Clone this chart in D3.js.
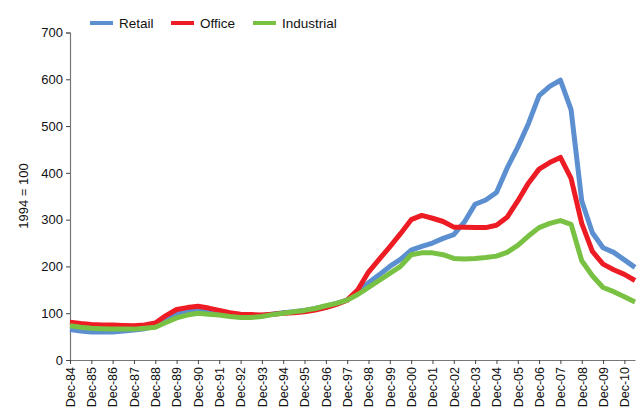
<!DOCTYPE html>
<html>
<head>
<meta charset="utf-8">
<script src="https://cdn.jsdelivr.net/npm/d3@7"></script>
<style>
  body { margin: 0; background: #fff; }
  text { font-family: "Liberation Sans", Arial, sans-serif; fill: #111; }
</style>
</head>
<body>
<svg width="640" height="410"></svg>
<script>
// half-yearly periods
const periods = [
  "1984-12", "1985-06", "1985-12", "1986-06", "1986-12", "1987-06", "1987-12", "1988-06", "1988-12",
  "1989-06", "1989-12", "1990-06", "1990-12", "1991-06", "1991-12", "1992-06", "1992-12", "1993-06",
  "1993-12", "1994-06", "1994-12", "1995-06", "1995-12", "1996-06", "1996-12", "1997-06", "1997-12",
  "1998-06", "1998-12", "1999-06", "1999-12", "2000-06", "2000-12", "2001-06", "2001-12", "2002-06",
  "2002-12", "2003-06", "2003-12", "2004-06", "2004-12", "2005-06", "2005-12", "2006-06", "2006-12",
  "2007-06", "2007-12", "2008-06", "2008-12", "2009-06", "2009-12", "2010-06", "2010-12", "2011-06"
];

const retail = [
  65, 62, 60, 60, 60, 62, 64, 67, 72,
  86, 99, 103, 105, 103, 100, 96, 93, 93,
  95, 98, 101, 103, 106, 110, 115, 121, 128,
  145, 165, 182, 200, 215, 235, 243, 250, 260,
  268, 295, 333, 342, 358, 410, 455, 505, 565,
  585, 598, 535, 340, 272, 240, 230, 214, 198
];

const office = [
  81, 78, 76, 75, 75, 74, 73, 75, 79,
  95, 108, 112, 115, 111, 106, 101, 98, 97,
  96, 98, 100, 101, 103, 107, 112, 119, 128,
  150, 188, 215, 242, 270, 300, 309, 303, 296,
  284, 284, 283, 283, 288, 305, 340, 378, 408,
  422, 433, 388, 292, 232, 205, 193, 183, 170
];

const industrial = [
  73, 70, 68, 67, 66, 66, 66, 68, 70,
  80, 90, 96, 100, 98, 96, 93, 91, 91,
  93, 97, 100, 103, 106, 110, 116, 121, 128,
  140, 155, 170, 185, 200, 225, 229, 229, 225,
  217, 216, 217, 219, 222, 230, 245, 265, 283,
  292, 298, 290, 212, 180, 155, 146, 135, 124
];

const yTicks = [0, 100, 200, 300, 400, 500, 600, 700];
const xTickYears = [1984, 1985, 1986, 1987, 1988, 1989, 1990, 1991, 1992, 1993, 1994, 1995, 1996,
  1997, 1998, 1999, 2000, 2001, 2002, 2003, 2004, 2005, 2006, 2007, 2008, 2009, 2010];

const seriesNames = ["Retail", "Office", "Industrial"];
const seriesColors = ["#5b8fd0", "#ed1c24", "#79c143"];
const seriesValues = [retail, office, industrial];

const svg = d3.select("svg");
const parse = d3.timeParse("%Y-%m");
const dates = periods.map(parse);

const x = d3.scaleTime()
  .domain([parse("1984-12"), parse("2011-06")])
  .range([70, 635]);

const y = d3.scaleLinear()
  .domain([0, 700])
  .range([360, 32.5]);

// y axis
const yAxis = d3.axisLeft(y).tickValues(yTicks).tickSize(4).tickPadding(3);
const gy = svg.append("g")
  .attr("transform", "translate(70,0)")
  .call(yAxis);
gy.select(".domain").attr("stroke", "#777").attr("stroke-width", 1.2);
gy.selectAll(".tick line").attr("stroke", "#444");
gy.selectAll("text").style("font-size", "13px").attr("fill", "#111");

// x axis
const xAxis = d3.axisBottom(x)
  .tickValues(xTickYears.map(yr => parse(yr + "-12")))
  .tickFormat(d3.timeFormat("Dec-%y"))
  .tickSize(4)
  .tickSizeOuter(0);
const gx = svg.append("g")
  .attr("transform", "translate(0,360)")
  .call(xAxis);
gx.select(".domain").attr("stroke", "#777").attr("stroke-width", 1.2);
gx.selectAll(".tick line").attr("stroke", "#444");
gx.selectAll("text")
  .style("font-size", "12.5px")
  .attr("fill", "#111")
  .attr("transform", "rotate(-90)")
  .attr("text-anchor", "end")
  .attr("x", -7)
  .attr("y", 0)
  .attr("dy", "0.35em");

// y label
svg.append("text")
  .attr("transform", "translate(28,196) rotate(-90)")
  .attr("text-anchor", "middle")
  .style("font-size", "13px")
  .text("1994 = 100");

// lines
const line = d3.line()
  .x((d, i) => x(dates[i]))
  .y(d => y(d));

svg.selectAll("path.series")
  .data(seriesValues)
  .enter()
  .append("path")
  .attr("class", "series")
  .attr("d", line)
  .attr("fill", "none")
  .attr("stroke", (d, i) => seriesColors[i])
  .attr("stroke-width", 5)
  .attr("stroke-linejoin", "round");

// legend
const legendX = [90, 171, 253];
const legend = svg.selectAll("g.legend")
  .data(seriesNames)
  .enter()
  .append("g")
  .attr("class", "legend")
  .attr("transform", (d, i) => `translate(${legendX[i]},23)`);
legend.append("line")
  .attr("x1", 0).attr("x2", 23)
  .attr("stroke", (d, i) => seriesColors[i])
  .attr("stroke-width", 4);
legend.append("text")
  .attr("x", 29)
  .attr("dy", "0.35em")
  .style("font-size", "13.5px")
  .text(d => d);
</script>
</body>
</html>
